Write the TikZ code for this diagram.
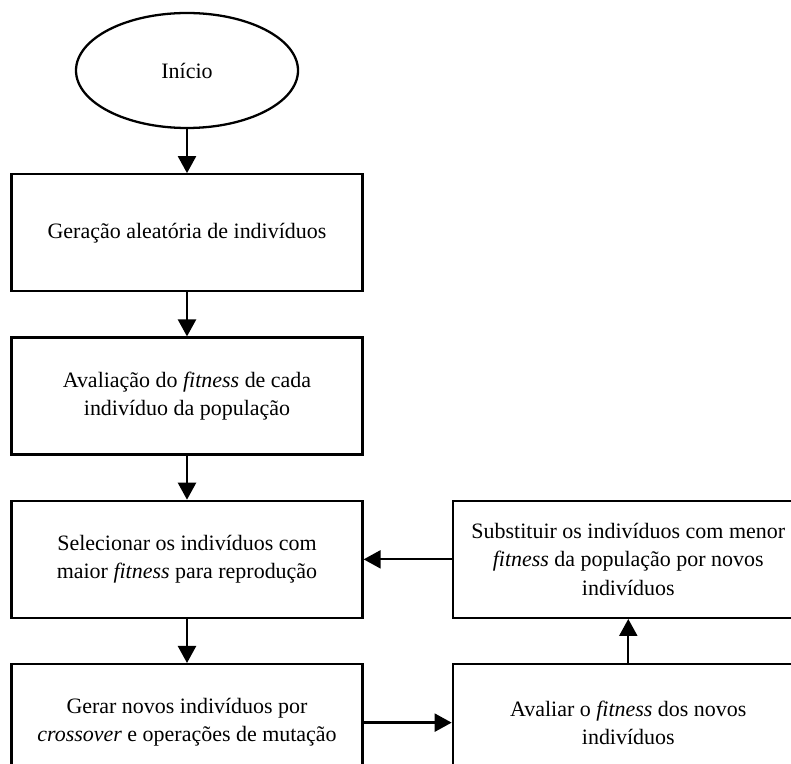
\documentclass[tikz,border=0pt]{standalone}
\usepackage{fontspec}
\setmainfont{Liberation Serif}
\usetikzlibrary{shapes.geometric, arrows.meta, positioning, calc}
\tikzset{
    process/.style={rectangle, draw, line width=1.3pt, minimum width=7.02cm, minimum height=2.34cm, align=center, font=\fontsize{12.5}{16}\selectfont},
    terminal/.style={ellipse, draw, line width=1.3pt, minimum width=4.44cm, minimum height=2.3cm, align=center, font=\fontsize{12.5}{16}\selectfont},
    flow/.style={draw, line width=1.3pt, -{Triangle[length=0.34cm, width=0.36cm]}}
}

\begin{document}
\begin{tikzpicture}[node distance=0.88cm and 1.76cm]
    \useasboundingbox (0,0) rectangle (15.82,-15.28);
    \clip (0,0) rectangle (15.82,-15.28);
    \node[terminal] (inicio) at (3.74,-1.41) {Início};
    \node[process, below=of inicio] (geracao) {Geração aleatória de indivíduos};
    \node[process, below=of geracao] (avaliacao) {Avaliação do \textit{fitness} de cada\\indivíduo da população};
    \node[process, below=of avaliacao] (selecao) {Selecionar os indivíduos com\\maior \textit{fitness} para reprodução};
    \node[process, below=of selecao] (gerar) {Gerar novos indivíduos por\\\textit{crossover} e operações de mutação};
    \node[process, right=of gerar] (avaliar) {Avaliar o \textit{fitness} dos novos\\indivíduos};
    \node[process, right=of selecao] (substituir) {Substituir os indivíduos com menor\\\textit{fitness} da população por novos\\indivíduos};

    \draw[flow] (inicio) -- (geracao);
    \draw[flow] (geracao) -- (avaliacao);
    \draw[flow] (avaliacao) -- (selecao);
    \draw[flow] (selecao) -- (gerar);
    \draw[flow] (gerar) -- (avaliar);
    \draw[flow] (avaliar) -- (substituir);
    \draw[flow] (substituir) -- (selecao);
\end{tikzpicture}
\end{document}
